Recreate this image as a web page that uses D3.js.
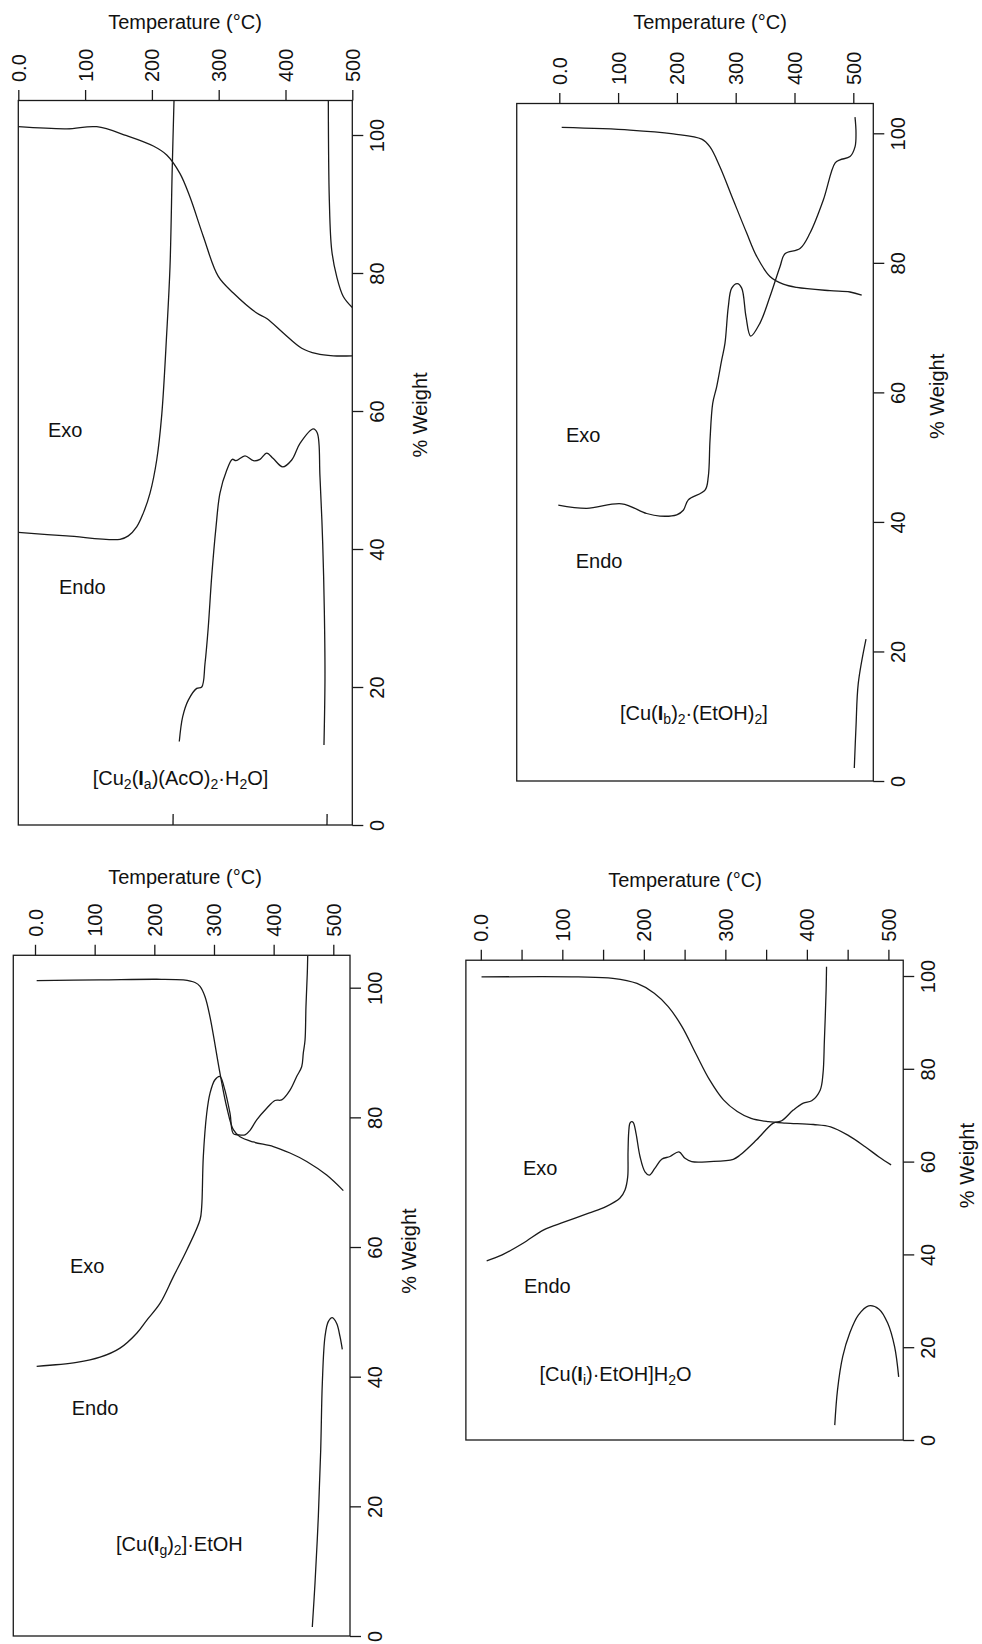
<!DOCTYPE html>
<html>
<head>
<meta charset="utf-8">
<script src="https://cdn.jsdelivr.net/npm/d3@7"></script>
<style>
  body { margin: 0; background: #fff; }
  svg text { font-family: "Liberation Sans", Arial, sans-serif; font-size: 20px; fill: #111; }
</style>
</head>
<body>
<svg id="chart"></svg>
<script>
const width = 982, height = 1644;

// Shared axis values
const tempTicks = [0, 100, 200, 300, 400, 500];
const tempTicksMinor = [0, 50, 100, 150, 200, 250, 300, 350, 400, 450, 500];
const weightTicks = [0, 20, 40, 60, 80, 100];

// Panel 1: [Cu2(Ia)(AcO)2.H2O]   points are [temperature, % weight]
const p1Weight = [[0, 101.2], [72.5, 100.9], [117.4, 101.2], [162.3, 99.9], [202.1, 98.4], [222.2, 97.1],
  [242.1, 94.4], [257.0, 91.0], [277.0, 85.3], [299.4, 79.5], [321.9, 77.1], [356.9, 74.2], [371.9, 73.4],
  [396.7, 71.3], [424.3, 69.1], [446.7, 68.3], [471.6, 68.0], [500, 68.0]];
const p1HeatLeft = [[233.1, 105], [230.5, 95.4], [227.1, 80.9], [222.2, 71.3], [214.7, 59.4], [207.2, 52.9],
  [197.2, 48.1], [187.1, 45.2], [177.2, 43.2], [164.7, 41.9], [152.2, 41.4], [72.5, 41.9], [0, 42.4]];
const p1HeatMid = [[241.0, 12.1], [246.1, 15.7], [254.5, 18.1], [267.1, 19.8], [274.6, 20.0], [279.5, 23.4],
  [284.4, 28.7], [289.5, 36.0], [296.0, 43.2], [301.9, 48.1], [312.0, 51.4], [320.4, 53.0], [325.9, 52.8],
  [339.4, 53.5], [351.8, 52.8], [361.8, 53.0], [371.9, 53.9], [381.7, 53.1], [395.8, 51.9], [409.3, 52.9],
  [421.7, 55.3], [441.6, 57.4], [447.6, 56.8], [451.6, 50.5], [455.7, 40.8], [458.1, 31.2], [459.1, 21.5],
  [457.6, 11.6]];
const p1HeatRight = [[464.1, 105], [465.6, 90.6], [469.2, 83.3], [476.6, 79.5], [486.5, 76.6], [500, 75.0]];
const p1StubA = [[231.6, 0], [231.8, 1.6]];
const p1StubB = [[462.1, 0], [462.3, 1.6]];
const p1Labels = [["Exo", 44.5, 57.2], ["Endo", 60.9, 34.5]];
const p1FormulaAt = [111.4, 6.8];
const p1Formula = [["[Cu"], ["2", "sub"], ["("], ["I", "bold"], ["a", "sub"], [")(AcO)"], ["2", "sub"],
  ["·H"], ["2", "sub"], ["O]"]];

// Panel 2: [Cu(Ib)2.(EtOH)2]
const p2Weight = [[4.1, 100.9], [120.2, 100.5], [193.9, 99.9], [242.2, 99.1], [256.3, 97.9], [273.3, 94.8],
  [295.9, 89.7], [318.7, 84.6], [335.7, 81.0], [358.3, 77.9], [380.9, 76.7], [403.7, 76.2], [460.4, 75.7],
  [494.4, 75.5], [514.3, 75.0]];
const p2Heat = [[-1.7, 42.6], [46.6, 42.1], [106.1, 42.8], [148.6, 41.3], [171.3, 40.9], [199.7, 41.1],
  [210.9, 41.8], [219.4, 43.4], [247.8, 44.9], [253.4, 47.0], [256.3, 52.6], [260.9, 58.3], [267.7, 60.9],
  [276.2, 65.0], [281.8, 67.6], [287.4, 73.2], [293.2, 76.1], [302.7, 76.8], [310.2, 76.1], [317.5, 71.7],
  [325.5, 68.7], [341.3, 70.7], [358.3, 74.8], [375.3, 79.4], [383.8, 81.4], [409.4, 82.2], [426.4, 84.6],
  [449.0, 89.7], [468.9, 95.4], [477.4, 95.9], [494.4, 96.4], [502.9, 97.9], [504.6, 100.0], [502.9, 102.5]];
const p2Tail = [[501.7, 2.0], [504.6, 8.4], [508.5, 15.1], [521.6, 21.9]];
const p2Labels = [["Exo", 11.4, 53.4], ["Endo", 27.9, 34.0]];
const p2FormulaAt = [103.2, 10.5];
const p2Formula = [["[Cu("], ["I", "bold"], ["b", "sub"], [")"], ["2", "sub"], ["·(EtOH)"], ["2", "sub"], ["]"]];

// Panel 3: [Cu(Ig)2].EtOH
const p3Weight = [[2.8, 101.1], [109.0, 101.2], [204.0, 101.3], [248.6, 101.2], [268.2, 100.8], [276.6, 100.2],
  [285.0, 98.6], [293.3, 95.5], [310.1, 86.8], [321.3, 81.6], [332.4, 78.1], [343.6, 77.0], [365.9, 76.2],
  [399.4, 75.5], [427.4, 74.5], [455.4, 73.2], [488.9, 71.1], [516.8, 68.7]];
const p3Heat = [[2.8, 41.6], [69.9, 42.2], [109.0, 43.0], [142.5, 44.4], [170.5, 46.7], [187.2, 48.7],
  [209.5, 51.3], [231.8, 55.4], [254.3, 59.5], [276.6, 64.2], [279.4, 66.2], [282.1, 73.9], [287.8, 80.6],
  [293.3, 83.7], [301.7, 85.8], [310.1, 86.3], [316.8, 84.7], [326.9, 80.6], [332.4, 77.5], [340.8, 77.3],
  [352.0, 77.3], [360.4, 78.0], [371.6, 79.6], [388.4, 81.4], [402.3, 82.6], [413.5, 82.7], [427.4, 84.2],
  [438.6, 86.3], [447.0, 87.8], [449.7, 89.9], [452.6, 91.9], [454.2, 97.1], [456.4, 102.2], [457.1, 104.9]];
const p3Tail = [[464.8, 1.4], [469.3, 8.1], [474.9, 18.4], [478.9, 28.7], [481.6, 39.0], [486.1, 46.2],
  [491.6, 48.5], [498.3, 49.1], [505.7, 48.2], [511.2, 46.2], [515.1, 44.2]];
const p3Labels = [["Exo", 58.7, 57.1], ["Endo", 61.5, 35.2]];
const p3FormulaAt = [135.8, 14.2];
const p3Formula = [["[Cu("], ["I", "bold"], ["g", "sub"], [")"], ["2", "sub"], ["]·EtOH"]];

// Panel 4: [Cu(Ii).EtOH]H2O
const p4Weight = [[0.9, 99.8], [119.6, 99.8], [162.0, 99.5], [191.6, 98.4], [212.8, 96.3], [229.9, 93.4],
  [246.8, 89.1], [263.7, 83.3], [280.7, 77.6], [297.7, 73.3], [314.6, 70.8], [331.6, 69.3], [352.8, 68.6],
  [374.0, 68.3], [408.0, 68.0], [429.1, 67.5], [450.3, 65.7], [471.5, 63.2], [488.5, 61.0], [503.3, 59.3]];
const p4Heat = [[7.2, 38.6], [26.2, 39.9], [51.8, 42.4], [77.2, 45.3], [102.7, 47.0], [132.4, 48.9],
  [153.5, 50.3], [170.5, 52.1], [176.9, 53.9], [180.2, 56.7], [180.6, 62.0], [181.5, 66.5], [183.0, 68.3],
  [185.1, 68.6], [187.1, 68.4], [190.4, 66.1], [195.3, 61.1], [201.4, 57.8], [206.7, 57.1], [213.7, 58.6],
  [221.9, 60.5], [232.1, 61.1], [243.1, 62.1], [250.5, 60.7], [258.7, 60.0], [281.2, 60.0], [309.7, 60.5],
  [318.0, 61.4], [338.4, 64.7], [358.8, 68.3], [369.1, 68.8], [383.3, 71.1], [395.6, 72.6], [405.9, 73.1],
  [416.3, 75.4], [419.8, 79.0], [421.5, 86.2], [423.6, 97.0], [424.1, 102.0]];
const p4Tail = [[434.2, 3.2], [437.6, 10.8], [444.0, 18.0], [452.5, 23.0], [463.1, 26.9], [475.8, 28.9],
  [488.5, 28.2], [499.1, 25.2], [507.6, 20.1], [512.6, 13.6]];
const p4Labels = [["Exo", 51.8, 58.6], ["Endo", 53.0, 33.2]];
const p4FormulaAt = [72.1, 14.2];
const p4Formula = [["[Cu("], ["I", "bold"], ["i", "sub"], [")·EtOH]H"], ["2", "sub"], ["O"]];

// Layout of each panel (pixel positions of 0/500 °C and 0/100 %)
const panels = [
  { xPx: [18.3, 352.3], yPx: [825, 135], xBox: [0, 500], yTop: 105, title: [185, 22], wLabelX: 420,
    minor: false, series: [p1Weight, p1HeatLeft, p1HeatMid, p1HeatRight, p1StubA, p1StubB],
    labels: p1Labels, formula: p1Formula, formulaAt: p1FormulaAt },
  { xPx: [559.3, 853.3], yPx: [781, 133.3], xBox: [-72.4, 534], yTop: 104.6, title: [710, 22], wLabelX: 937,
    minor: false, series: [p2Weight, p2Heat, p2Tail],
    labels: p2Labels, formula: p2Formula, formulaAt: p2FormulaAt },
  { xPx: [35, 333.3], yPx: [1636, 987.7], xBox: [-36.4, 528], yTop: 105, title: [185, 877], wLabelX: 409,
    minor: false, series: [p3Weight, p3Heat, p3Tail],
    labels: p3Labels, formula: p3Formula, formulaAt: p3FormulaAt },
  { xPx: [480.8, 888.4], yPx: [1440, 976], xBox: [-18.3, 518.2], yTop: 103.4, title: [685, 880], wLabelX: 967,
    minor: true, series: [p4Weight, p4Heat, p4Tail],
    labels: p4Labels, formula: p4Formula, formulaAt: p4FormulaAt }
];

const svg = d3.select("#chart")
  .attr("width", width)
  .attr("height", height)
  .attr("viewBox", [0, 0, width, height]);

svg.append("rect").attr("width", width).attr("height", height).attr("fill", "#fff");

const ink = "#1a1a1a";

panels.forEach((p, i) => {
  const x = d3.scaleLinear().domain([0, 500]).range(p.xPx);
  const y = d3.scaleLinear().domain([0, 100]).range(p.yPx);
  const g = svg.append("g");

  const bx0 = x(p.xBox[0]), bx1 = x(p.xBox[1]);
  const by0 = y(p.yTop), by1 = y(0);

  g.append("defs").append("clipPath")
    .attr("id", "clip" + i)
    .append("rect")
    .attr("x", bx0).attr("y", by0)
    .attr("width", bx1 - bx0).attr("height", by1 - by0);

  // frame
  g.append("rect")
    .attr("x", bx0).attr("y", by0)
    .attr("width", bx1 - bx0).attr("height", by1 - by0)
    .attr("fill", "none")
    .attr("stroke", ink)
    .attr("stroke-width", 1.3);

  // temperature axis on top
  const top = g.append("g")
    .attr("transform", `translate(0,${by0})`)
    .call(d3.axisTop(x)
      .tickValues(p.minor ? tempTicksMinor : tempTicks)
      .tickSize(10.5)
      .tickSizeOuter(0)
      .tickFormat(d => d % 100 === 0 ? (d === 0 ? "0.0" : String(d)) : ""));
  top.attr("color", ink);
  top.select(".domain").remove();
  top.selectAll(".tick line").attr("stroke-width", 1.3);
  top.selectAll(".tick text")
    .attr("transform", "rotate(-90)")
    .attr("x", 18.5).attr("y", 0).attr("dy", null)
    .attr("text-anchor", "start")
    .attr("dominant-baseline", "central");

  // weight axis on the right
  const right = g.append("g")
    .attr("transform", `translate(${bx1},0)`)
    .call(d3.axisRight(y).tickValues(weightTicks).tickSize(11).tickSizeOuter(0));
  right.attr("color", ink);
  right.select(".domain").remove();
  right.selectAll(".tick line").attr("stroke-width", 1.3);
  right.selectAll(".tick text")
    .attr("transform", "rotate(-90)")
    .attr("x", 0).attr("y", 25).attr("dy", null)
    .attr("text-anchor", "middle")
    .attr("dominant-baseline", "central");

  g.append("text")
    .attr("x", p.title[0]).attr("y", p.title[1])
    .attr("text-anchor", "middle")
    .attr("dominant-baseline", "central")
    .text("Temperature (°C)");

  g.append("text")
    .attr("transform", `translate(${p.wLabelX},${y(60) + 4}) rotate(-90)`)
    .attr("text-anchor", "middle")
    .attr("dominant-baseline", "central")
    .text("% Weight");

  // curves
  const line = d3.line()
    .x(d => x(d[0]))
    .y(d => y(d[1]))
    .curve(d3.curveCatmullRom.alpha(0.5));

  g.append("g")
    .attr("clip-path", `url(#clip${i})`)
    .selectAll("path")
    .data(p.series)
    .join("path")
    .attr("d", line)
    .attr("fill", "none")
    .attr("stroke", ink)
    .attr("stroke-width", 1.3);

  // Exo / Endo
  g.selectAll(".lab")
    .data(p.labels)
    .join("text")
    .attr("class", "lab")
    .attr("x", d => x(d[1]))
    .attr("y", d => y(d[2]))
    .attr("dominant-baseline", "central")
    .text(d => d[0]);

  // compound formula
  const f = g.append("text")
    .attr("x", x(p.formulaAt[0]))
    .attr("y", y(p.formulaAt[1]))
    .attr("dominant-baseline", "central");
  let inSub = false;
  p.formula.forEach(([txt, style]) => {
    const t = f.append("tspan").text(txt);
    if (style === "sub") {
      t.style("font-size", "14px");
      if (!inSub) t.attr("dy", 6);
      inSub = true;
    } else {
      if (inSub) t.attr("dy", -6);
      inSub = false;
      if (style === "bold") t.style("font-weight", "bold");
    }
  });
});
</script>
</body>
</html>
